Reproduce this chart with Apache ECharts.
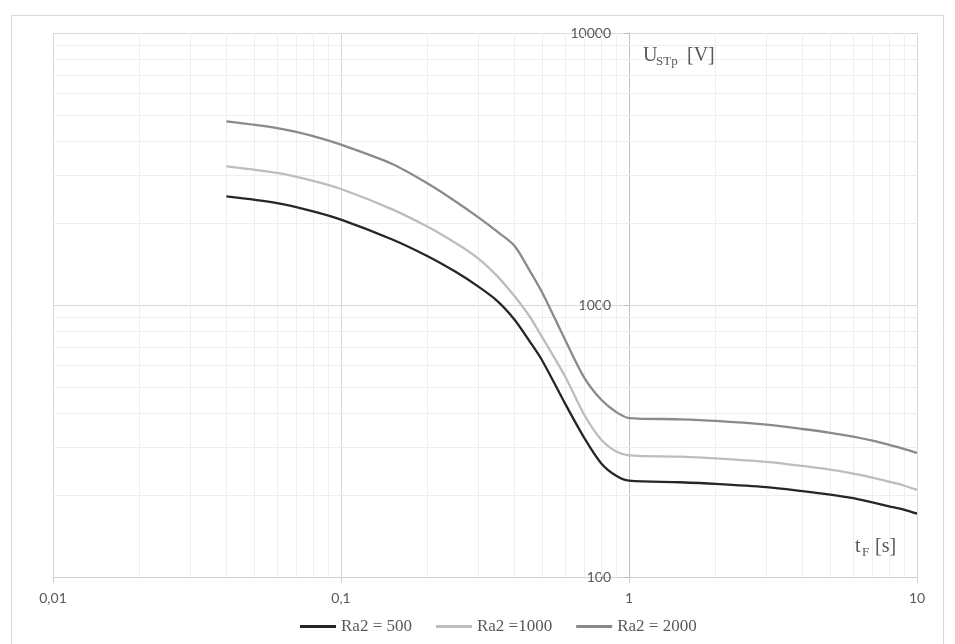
<!DOCTYPE html>
<html><head><meta charset="utf-8">
<script src="https://cdn.jsdelivr.net/npm/echarts@6/dist/echarts.min.js"></script>
<style>html,body{margin:0;padding:0;background:#fff}#c{width:955px;height:644px}</style>
</head><body><div id="c"></div>
<script>
// x values: t_F [s]
const tF = [0.04,0.06,0.08,0.1,0.15,0.2,0.25,0.3,0.35,0.4,0.45,0.5,0.6,0.7,0.8,0.9,1,1.5,2,3,4,5,6,7,8,9,10];
// U_STp [V]
const ra500  = [2506,2370,2210,2060,1745,1511,1324,1168,1032,885,740,624,434,324,262,236,226,223,220,214,207,201,195,188,182,177,171];
const ra1000 = [3235,3060,2860,2670,2252,1939,1689,1481,1272,1079,913,760,546,394,320,290,280,277,273,265,256,248,240,232,224,217,209];
const ra2000 = [4730,4470,4180,3885,3304,2796,2402,2099,1856,1652,1349,1110,745,540,449,405,384,380,375,363,350,339,328,317,306,296,286];
const seriesNames = ['Ra2 = 500', 'Ra2 =1000', 'Ra2 = 2000'];
const xTickLabels = ['0,01', '0,1', '1', '10'];
const yTickLabels = ['100', '1000', '10000'];

const colors = ['#262626', '#bdbdbd', '#8a8a8a'];
const seriesData = [ra500, ra1000, ra2000];

// minor log gridlines (2..9 in each decade)
const xMinor = [], yMinor = [];
[0.01, 0.1, 1].forEach(d => { for (let k = 2; k <= 9; k++) xMinor.push(parseFloat((k * d).toPrecision(3))); });
[100, 1000].forEach(d => { for (let k = 2; k <= 9; k++) yMinor.push(k * d); });

const chart = echarts.init(document.getElementById('c'), null, {renderer: 'canvas'});
const labelFont = {fontFamily: 'Lato', fontSize: 14, color: '#595959'};

const series = seriesData.map((arr, i) => ({
  name: seriesNames[i],
  type: 'line',
  data: tF.map((x, j) => [x, arr[j]]),
  showSymbol: false,
  smooth: 0.3,
  lineStyle: {color: colors[i], width: 2.3},
  itemStyle: {color: colors[i]},
  z: 3
}));
series.push({
  name: 'minor',
  type: 'line',
  data: [],
  silent: true,
  markLine: {
    silent: true,
    symbol: ['none', 'none'],
    z: 1,
    label: {show: false},
    lineStyle: {color: '#eeeeee', width: 1, type: 'solid'},
    emphasis: {disabled: true},
    data: xMinor.map(v => ({xAxis: v})).concat(yMinor.map(v => ({yAxis: v})))
  }
});

chart.setOption({
  animation: false,
  backgroundColor: '#fff',
  grid: {left: 53, right: 38, top: 33, bottom: 67, containLabel: false},
  xAxis: {
    type: 'log', logBase: 10, min: 0.01, max: 10,
    axisLine: {show: true, onZero: false, lineStyle: {color: '#d0d0d0', width: 1}},
    axisTick: {show: true, length: 6, lineStyle: {color: '#d0d0d0'}},
    axisLabel: Object.assign({margin: 14, formatter: v => {
      const idx = [0.01, 0.1, 1, 10].findIndex(t => Math.abs(Math.log10(v) - Math.log10(t)) < 1e-6);
      return idx >= 0 ? xTickLabels[idx] : '';
    }}, labelFont),
    splitLine: {show: true, lineStyle: {color: '#d9d9d9', width: 1}},
    minorTick: {show: false}, minorSplitLine: {show: false}
  },
  yAxis: {
    type: 'log', logBase: 10, min: 100, max: 10000,
    position: 'left', offset: -576,
    axisLine: {show: true, onZero: false, lineStyle: {color: '#bfbfbf', width: 1}},
    axisTick: {show: true, length: 5, lineStyle: {color: '#bfbfbf'}},
    axisLabel: Object.assign({margin: 18, formatter: v => {
      const idx = [100, 1000, 10000].findIndex(t => Math.abs(Math.log10(v) - Math.log10(t)) < 1e-6);
      return idx >= 0 ? yTickLabels[idx] : '';
    }}, labelFont),
    splitLine: {show: true, lineStyle: {color: '#d9d9d9', width: 1}}
  },
  legend: {
    data: seriesNames,
    left: 295, top: 613,
    icon: 'rect', itemWidth: 36, itemHeight: 3, itemGap: 24,
    textStyle: {fontFamily: 'Liberation Serif', fontSize: 17, color: '#595959'}
  },
  graphic: [
    {type: 'rect', silent: true, z: -10, shape: {x: 11.5, y: 15.5, width: 932, height: 700},
     style: {fill: 'none', stroke: '#d9d9d9', lineWidth: 1}},
    {type: 'text', silent: true, z: 10, style: {x: 643, y: 56, text: 'U', font: '20px "Liberation Serif"', fill: '#595959', verticalAlign: 'middle'}},
    {type: 'text', silent: true, z: 10, style: {x: 656, y: 62, text: 'STp', font: '13px "Liberation Serif"', fill: '#595959', verticalAlign: 'middle'}},
    {type: 'text', silent: true, z: 10, style: {x: 687, y: 56, text: '[V]', font: '20px "Liberation Serif"', fill: '#595959', verticalAlign: 'middle'}},
    {type: 'text', silent: true, z: 10, style: {x: 855, y: 547, text: 't', font: '20px "Liberation Serif"', fill: '#595959', verticalAlign: 'middle'}},
    {type: 'text', silent: true, z: 10, style: {x: 862, y: 553, text: 'F', font: '13px "Liberation Serif"', fill: '#595959', verticalAlign: 'middle'}},
    {type: 'text', silent: true, z: 10, style: {x: 875, y: 547, text: '[s]', font: '20px "Liberation Serif"', fill: '#595959', verticalAlign: 'middle'}}
  ],
  series: series
});
</script>
</body></html>
